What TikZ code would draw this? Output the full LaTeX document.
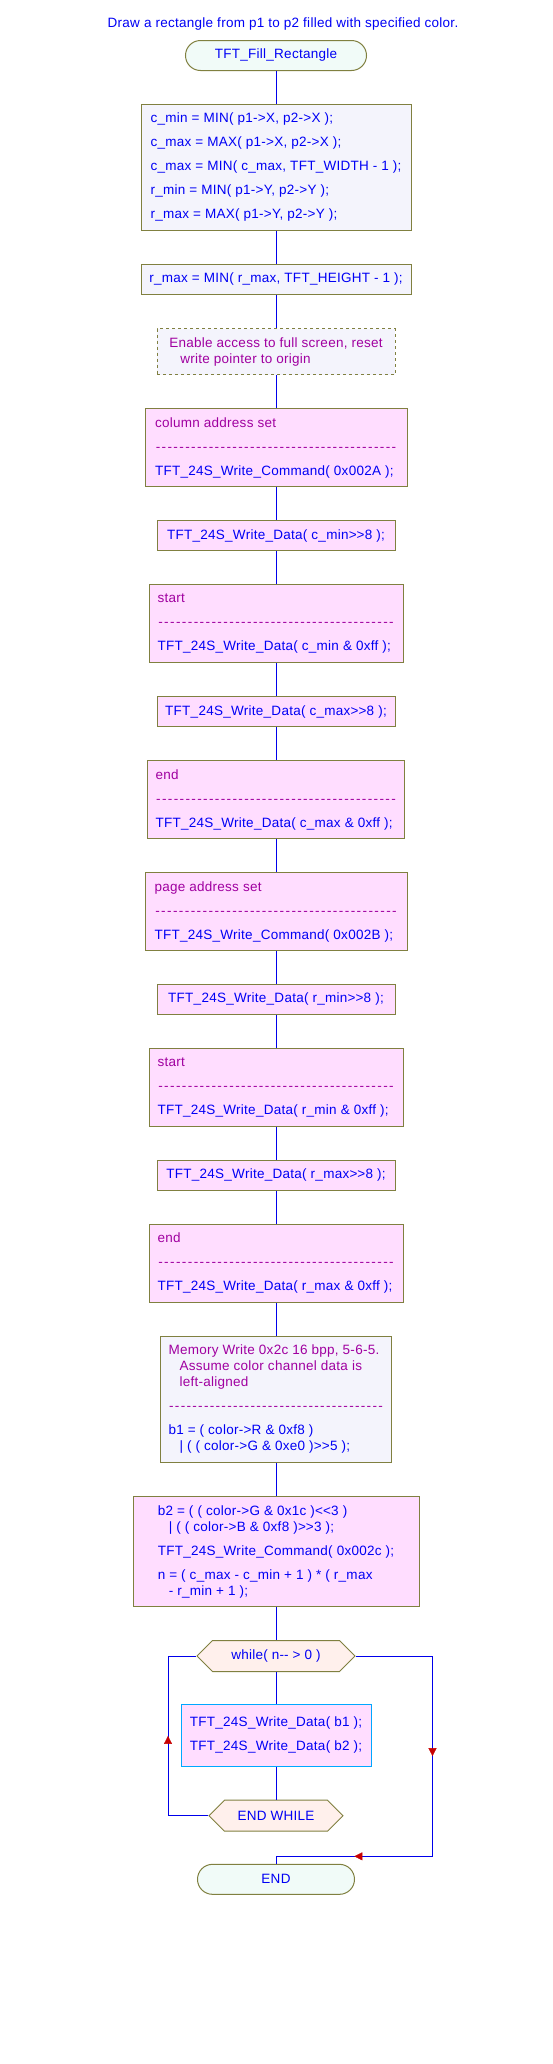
\documentclass[tikz,border=0pt]{standalone}
\usepackage{fontspec}
\setmainfont{Liberation Sans}[LetterSpace=2]
\usetikzlibrary{shapes.symbols, decorations.markings, arrows.meta}

\definecolor{olivebd}{RGB}{128,128,64}
\definecolor{flowblue}{RGB}{0,0,245}
\definecolor{linkblue}{RGB}{0,0,235}
\definecolor{notepurple}{RGB}{160,0,160}
\definecolor{lavfill}{RGB}{244,244,252}
\definecolor{pinkfill}{RGB}{255,221,255}
\definecolor{mintfill}{RGB}{241,251,248}
\definecolor{hexfill}{RGB}{255,240,236}
\definecolor{bodyedge}{RGB}{0,168,255}
\definecolor{arrowred}{RGB}{200,0,0}

\newcommand{\cmt}[1]{\textcolor{notepurple}{#1}}
\newcommand{\sepline}[1]{\cmt{\hbox to #1{\xleaders\hbox to 5.8pt{\hss-\hss}\hfill}}}
\newcommand{\shiftR}{>\kern0pt>}
\newcommand{\shiftL}{<\kern0pt<}
\newcommand{\minmin}{-\kern0pt-}
\newcommand{\wrapind}{\hspace*{11pt}}

\tikzset{
	box/.style={rectangle, draw=olivebd, line width=1pt, text=flowblue, align=left, inner xsep=8pt, font=\fontsize{13.5}{16}\selectfont},
	proc/.style={box, fill=lavfill},
	cmd/.style={box, fill=pinkfill},
	note/.style={proc, dash pattern=on 3pt off 3pt, text=notepurple},
	term/.style={box, fill=mintfill, rounded corners=15pt, minimum width=#1, minimum height=30pt, align=center},
	loophex/.style={box, shape=signal, signal to=west and east, signal pointer angle=90, fill=hexfill, minimum width=#1, minimum height=31pt, align=center},
	flow/.style={draw=linkblue, line width=1pt},
	midarrow/.style={postaction={decorate}, decoration={markings, mark=at position 0.5 with {\arrow{Triangle[width=8pt, length=8pt, color=arrowred, fill=arrowred]}}}}
}

\begin{document}
\begin{tikzpicture}[x=1pt, y=-1pt]
	\useasboundingbox (0,0) rectangle (552,2064);
	
	\node[text=flowblue, font=\fontsize{13.5}{16}\selectfont] (title) at (283,24) {Draw a rectangle from p1 to p2 filled with specified color.};
	
	\node[term=181pt] (start) at (276,55.5) {TFT\_Fill\_Rectangle};
	\node[proc, minimum width=270pt, minimum height=126pt] (init) at (276,167.3) {c\_min = MIN( p1->X, p2->X );\\[8pt]c\_max = MAX( p1->X, p2->X );\\[8pt]c\_max = MIN( c\_max, TFT\_WIDTH - 1 );\\[8pt]r\_min = MIN( p1->Y, p2->Y );\\[8pt]r\_max = MAX( p1->Y, p2->Y );};
	\node[proc, minimum width=270pt, minimum height=30pt] (clip) at (276,279.3) {r\_max = MIN( r\_max, TFT\_HEIGHT - 1 );};
	\node[note, minimum width=238pt, minimum height=46pt] (note) at (276,351.7) {Enable access to full screen, reset\\\wrapind write pointer to origin};
	
	\node[cmd, minimum width=262pt, minimum height=78pt] (col) at (276,447.7) {\cmt{column address set}\\[8pt]\sepline{242pt}\\[8pt]TFT\_24S\_Write\_Command( 0x002A );};
	\node[cmd, minimum width=238pt, minimum height=30pt] (cminhi) at (276,535.5) {TFT\_24S\_Write\_Data( c\_min\shiftR 8 );};
	\node[cmd, minimum width=254pt, minimum height=78pt] (cminlo) at (276,623.5) {\cmt{start}\\[8pt]\sepline{237pt}\\[8pt]TFT\_24S\_Write\_Data( c\_min \& 0xff );};
	\node[cmd, minimum width=238pt, minimum height=30pt] (cmaxhi) at (276,711.5) {TFT\_24S\_Write\_Data( c\_max\shiftR 8 );};
	\node[cmd, minimum width=254pt, minimum height=78pt] (cmaxlo) at (276,799.5) {\cmt{end}\\[8pt]\sepline{241pt}\\[8pt]TFT\_24S\_Write\_Data( c\_max \& 0xff );};
	
	\node[cmd, minimum width=262pt, minimum height=78pt] (page) at (276,911.5) {\cmt{page address set}\\[8pt]\sepline{243pt}\\[8pt]TFT\_24S\_Write\_Command( 0x002B );};
	\node[cmd, minimum width=238pt, minimum height=30pt] (rminhi) at (276,999.3) {TFT\_24S\_Write\_Data( r\_min\shiftR 8 );};
	\node[cmd, minimum width=254pt, minimum height=78pt] (rminlo) at (276,1087.3) {\cmt{start}\\[8pt]\sepline{237pt}\\[8pt]TFT\_24S\_Write\_Data( r\_min \& 0xff );};
	\node[cmd, minimum width=238pt, minimum height=30pt] (rmaxhi) at (276,1175.3) {TFT\_24S\_Write\_Data( r\_max\shiftR 8 );};
	\node[cmd, minimum width=254pt, minimum height=78pt] (rmaxlo) at (276,1263.3) {\cmt{end}\\[8pt]\sepline{237pt}\\[8pt]TFT\_24S\_Write\_Data( r\_max \& 0xff );};
	
	\node[proc, minimum width=230pt, minimum height=126pt] (mem) at (276,1399.3) {\cmt{Memory Write 0x2c 16 bpp, 5-6-5.}\\\wrapind\cmt{Assume color channel data is}\\\wrapind\cmt{left-aligned}\\[8pt]\sepline{215pt}\\[8pt]b1 = ( color->R \& 0xf8 )\\\wrapind| ( ( color->G \& 0xe0 )\shiftR 5 );};
	\node[cmd, minimum width=286pt, minimum height=110pt] (calc) at (276,1551.5) {b2 = ( ( color->G \& 0x1c )\shiftL 3 )\\\wrapind| ( ( color->B \& 0xf8 )\shiftR 3 );\\[8pt]TFT\_24S\_Write\_Command( 0x002c );\\[8pt]n = ( c\_max - c\_min + 1 ) * ( r\_max\\\wrapind- r\_min + 1 );};
	
	\node[loophex=158pt] (while) at (276,1656) {while( n\minmin{} > 0 )};
	\node[cmd, draw=bodyedge, minimum width=190pt, minimum height=62pt] (body) at (276,1735.3) {TFT\_24S\_Write\_Data( b1 );\\[8pt]TFT\_24S\_Write\_Data( b2 );};
	\node[loophex=134pt] (endwhile) at (276,1815.7) {END WHILE};
	\node[term=157pt] (end) at (276,1879.3) {END};
	
	\coordinate (loopNW) at (168,1656);
	\coordinate (loopSW) at (168,1815.7);
	\coordinate (loopNE) at (432.5,1656);
	\coordinate (loopSE) at (432.5,1856.3);
	\coordinate (endin) at (276,1856.3);
	
	\foreach \a/\b in {start/init, init/clip, clip/note, note/col, col/cminhi, cminhi/cminlo, cminlo/cmaxhi, cmaxhi/cmaxlo, cmaxlo/page, page/rminhi, rminhi/rminlo, rminlo/rmaxhi, rmaxhi/rmaxlo, rmaxlo/mem, mem/calc, calc/while, while/body, body/endwhile}
		\draw[flow] (\a.south) -- (\b.north);
	
	\draw[flow] (endwhile.west) -- (loopSW) -- (loopNW) -- (while.west);
	\draw[flow] (while.east) -- (loopNE) -- (loopSE) -- (endin) -- (end.north);
	\path[midarrow] (loopSW) -- (loopNW);
	\path[midarrow] (loopNE) -- (loopSE);
	\path[midarrow] (loopSE) -- (endin);
\end{tikzpicture}
\end{document}
